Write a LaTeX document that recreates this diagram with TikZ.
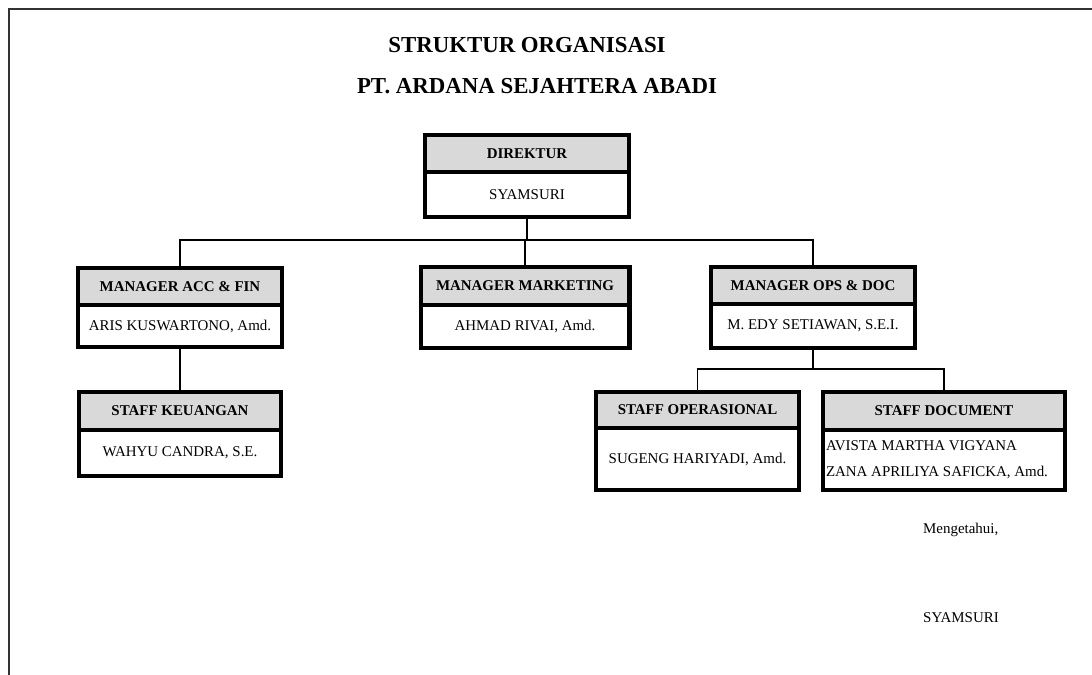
\documentclass[tikz,border=0pt]{standalone}
\usepackage{fontspec}
\setmainfont{Liberation Serif}
\usepackage{tikz}
\usetikzlibrary{positioning}
\tikzset{
  jabatan/.style={draw, line width=2.3pt, fill=black!15, inner sep=0pt, outer sep=0pt,
    font=\fontsize{8.5}{10}\selectfont\bfseries},
  nama/.style={draw, line width=2.3pt, fill=white, inner sep=0pt, outer sep=0pt,
    font=\fontsize{8.5}{10}\selectfont},
  garis/.style={line width=0.8pt},
  judul/.style={font=\fontsize{13}{15}\selectfont\bfseries},
}

\begin{document}
\begin{tikzpicture}[x=0.02cm,y=-0.02cm]
\useasboundingbox (0,0) rectangle (1092,675);
\draw[line width=1.2pt, black!80] (9,675) -- (9,9) -- (1092,9);
\node[judul] (judul1) at (527,45) {STRUKTUR ORGANISASI};
\node[judul] (judul2) at (537,86) {PT. ARDANA SEJAHTERA ABADI};

\node[jabatan, minimum width=4.08cm, minimum height=0.74cm] (dirjab) at (527,153.5) {DIREKTUR};
\node[nama, minimum width=4.08cm, minimum height=0.9cm, below=0pt of dirjab] (dirnama) {SYAMSURI};

\node[jabatan, minimum width=4.08cm, minimum height=0.74cm] (accjab) at (180,286.5) {MANAGER ACC \& FIN};
\node[nama, minimum width=4.08cm, minimum height=0.84cm, below=0pt of accjab] (accnama) {ARIS KUSWARTONO, Amd.};

\node[jabatan, minimum width=4.18cm, minimum height=0.76cm] (mktjab) at (525,286) {MANAGER MARKETING};
\node[nama, minimum width=4.18cm, minimum height=0.86cm, below=0pt of mktjab] (mktnama) {AHMAD RIVAI, Amd.};

\node[jabatan, minimum width=4.08cm, minimum height=0.74cm] (opsjab) at (813,285.5) {MANAGER OPS \& DOC};
\node[nama, minimum width=4.08cm, minimum height=0.88cm, below=0pt of opsjab] (opsnama) {M. EDY SETIAWAN, S.E.I.};

\node[jabatan, minimum width=4.04cm, minimum height=0.76cm] (keujab) at (180,411) {STAFF KEUANGAN};
\node[nama, minimum width=4.04cm, minimum height=0.92cm, below=0pt of keujab] (keunama) {WAHYU CANDRA, S.E.};

\node[jabatan, minimum width=4.06cm, minimum height=0.72cm] (opjab) at (697.5,410) {STAFF OPERASIONAL};
\node[nama, minimum width=4.06cm, minimum height=1.24cm, below=0pt of opjab] (opnama) {SUGENG HARIYADI, Amd.};

\node[jabatan, minimum width=4.84cm, minimum height=0.76cm] (docjab) at (944,411) {STAFF DOCUMENT};
\node[nama, text width=4.72cm, inner xsep=0.06cm, minimum height=1.2cm, align=flush left,
  font=\fontsize{8.5}{15}\selectfont, below=0pt of docjab] (docnama)
  {AVISTA MARTHA VIGYANA\\ZANA APRILIYA SAFICKA, Amd.};

\draw[garis] (dirnama.south) -- ++(0,23) coordinate (bus);
\draw[garis] (accjab.north) |- (bus) -| (opsjab.north);
\draw[garis] (mktjab.north) -- (mktjab.north |- bus);
\draw[garis] (accnama.south) -- (keujab.north);
\draw[garis] (opsnama.south) -- ++(0,21) coordinate (cabang);
\draw[garis] (opjab.north) |- (cabang) -| (docjab.north);

\node[anchor=west, font=\fontsize{8.5}{10}\selectfont] (tahu) at (917,530) {Mengetahui,};
\node[anchor=west, font=\fontsize{8.5}{10}\selectfont] (ttd) at (917,618) {SYAMSURI};
\end{tikzpicture}
\end{document}
